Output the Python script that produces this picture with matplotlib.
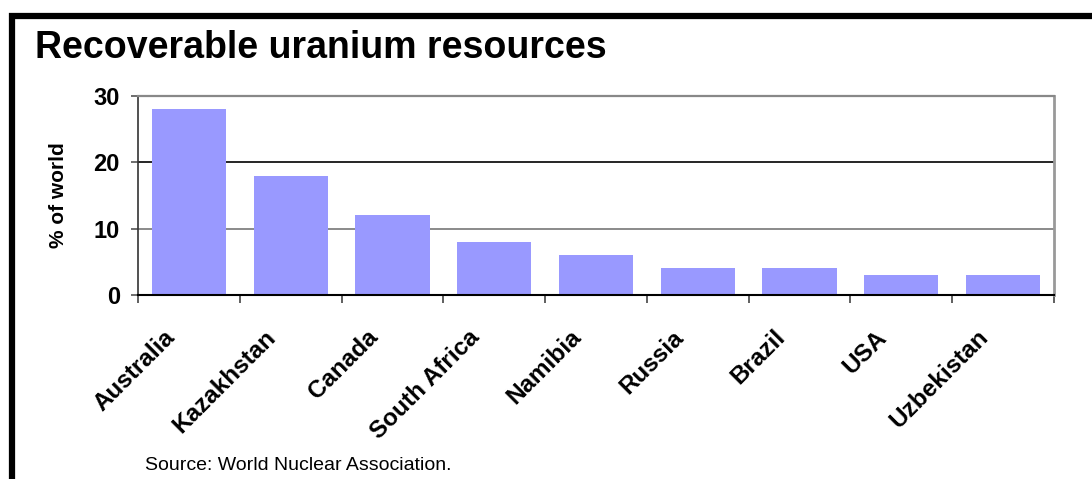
import matplotlib

matplotlib.use("Agg")
import matplotlib.pyplot as plt
import matplotlib.transforms as mtransforms
from matplotlib.lines import Line2D
import numpy as np

# data
countries = [
    "Australia",
    "Kazakhstan",
    "Canada",
    "South Africa",
    "Namibia",
    "Russia",
    "Brazil",
    "USA",
    "Uzbekistan",
]
share_pct = [28, 18, 12, 8, 6, 4, 4, 3, 3]
y_ticks = [0, 10, 20, 30]

plt.rcParams["font.family"] = ["Liberation Sans", "DejaVu Sans"]

W, H = 1092, 479
fig = plt.figure(figsize=(W / 100, H / 100), dpi=100)
fig.patch.set_facecolor("white")

# axes box in pixel terms: left 138, right 1054, top 96, bottom 295
ax = fig.add_axes([138 / W, 1 - 295 / H, (1054 - 138) / W, (295 - 96) / H])

x = np.arange(len(countries))
ax.bar(x, share_pct, width=0.73, color="#9999FF", zorder=2)

ax.set_xlim(-0.5, len(countries) - 0.5)
ax.set_ylim(0, 30)
ax.set_yticks(y_ticks)
ax.set_yticklabels([str(v) for v in y_ticks], fontsize=17, fontweight="bold")

# grid lines (20 dark, 10 gray as in the original)
ax.yaxis.grid(True, zorder=1)
for val, gl in zip(y_ticks, ax.yaxis.get_gridlines()):
    if val == 20:
        gl.set_color("black")
        gl.set_linewidth(1.2)
    elif val == 10:
        gl.set_color("#777777")
        gl.set_linewidth(1.2)
    else:
        gl.set_visible(False)
ax.set_axisbelow(True)

# category labels centred, separators as minor ticks
ax.set_xticks(x)
ax.set_xticklabels(countries, fontsize=17.5, fontweight="bold",
                   rotation=45, ha="right", va="center", rotation_mode="anchor")
ax.set_xticks(np.arange(-0.5, len(countries)), minor=True)
ax.tick_params(axis="x", which="major", length=0, pad=28)
ax.tick_params(axis="x", which="minor", length=6, width=1.2, color="#444444",
               direction="out")
ax.tick_params(axis="y", length=5, width=1.2, color="#555555", pad=8)

shift = mtransforms.ScaledTranslation(-18 / 100, 0, fig.dpi_scale_trans)
for lbl in ax.get_xticklabels():
    lbl.set_transform(lbl.get_transform() + shift)

ax.spines["top"].set_color("#888888")
ax.spines["top"].set_linewidth(1.6)
ax.spines["right"].set_color("#999999")
ax.spines["right"].set_linewidth(2.0)
ax.spines["left"].set_color("#333333")
ax.spines["left"].set_linewidth(1.2)
ax.spines["bottom"].set_color("black")
ax.spines["bottom"].set_linewidth(1.5)

ax.set_ylabel("% of world", fontsize=15, fontweight="bold")
ax.yaxis.set_label_coords((68 - 138) / (1054 - 138), 0.5)

fig.text(35 / W, 1 - 58 / H, "Recoverable uranium resources",
         fontsize=27, fontweight="bold", va="baseline", ha="left")
fig.text(145 / W, 1 - 470 / H, "Source: World Nuclear Association.",
         fontsize=14, va="baseline", ha="left")

# thick black frame along the left and top edges
frame = Line2D([12 / W, 12 / W, 1.0], [0.0, 1 - 16 / H, 1 - 16 / H],
               transform=fig.transFigure, color="black", linewidth=4.5,
               solid_joinstyle="miter")
fig.add_artist(frame)

fig.savefig("out.png", dpi=100)
